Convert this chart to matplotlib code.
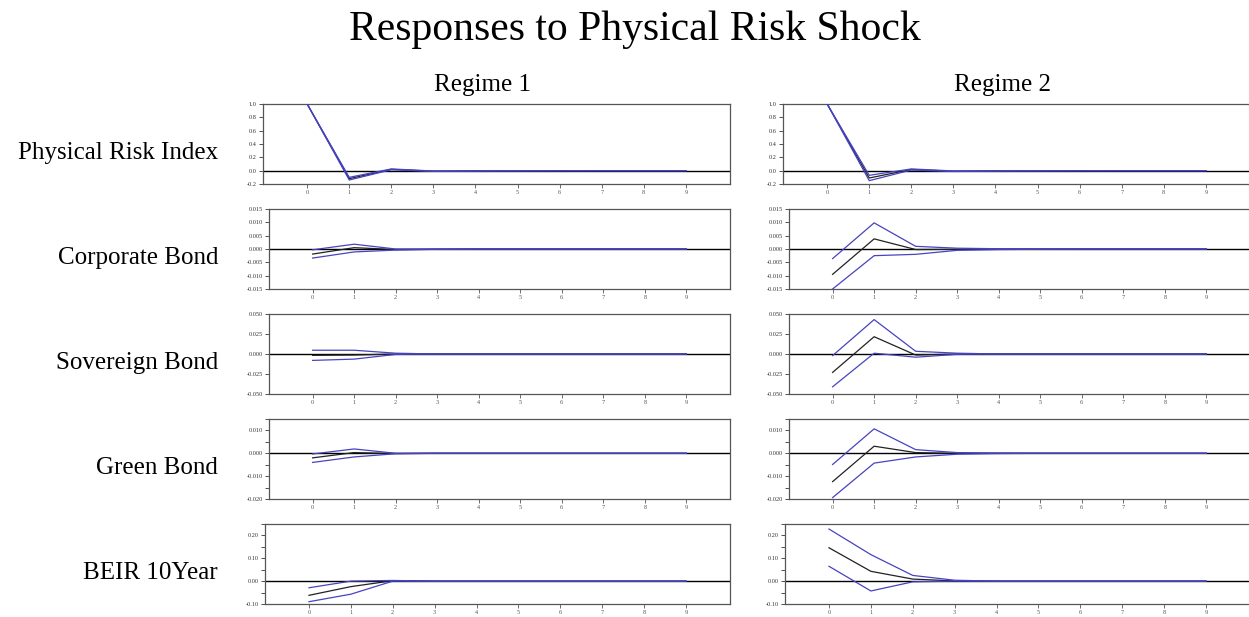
import numpy as np
import matplotlib.pyplot as plt

plt.rcParams['font.family'] = ['Liberation Serif', 'DejaVu Serif']

steps = np.arange(10)
regimes = ["Regime 1", "Regime 2"]
variables = ["Physical Risk Index", "Corporate Bond", "Sovereign Bond", "Green Bond", "BEIR 10Year"]

# impulse responses: point estimate (mid) with lower/upper bands
pri_r1_mid = [1.0, -0.120, 0.020, -0.008, -0.004, -0.002, -0.001, 0.0, 0.0, 0.0]
pri_r1_lo = [1.0, -0.140, 0.014, -0.011, -0.006, -0.003, -0.001, 0.0, 0.0, 0.0]
pri_r1_hi = [1.0, -0.100, 0.026, -0.005, -0.002, -0.001, 0.0, 0.0, 0.0, 0.0]
pri_r2_mid = [1.0, -0.110, 0.018, -0.008, -0.004, -0.002, -0.001, 0.0, 0.0, 0.0]
pri_r2_lo = [1.0, -0.150, 0.010, -0.012, -0.006, -0.003, -0.001, 0.0, 0.0, 0.0]
pri_r2_hi = [1.0, -0.070, 0.026, -0.004, -0.002, -0.001, 0.0, 0.0, 0.0, 0.0]

corp_r1_mid = [-0.0019, 0.0005, -0.0002, -0.0001, 0.0, 0.0, 0.0, 0.0, 0.0, 0.0]
corp_r1_lo = [-0.0034, -0.0011, -0.0004, -0.0001, 0.0, 0.0, 0.0, 0.0, 0.0, 0.0]
corp_r1_hi = [-0.0003, 0.0018, 0.0000, 0.0000, 0.0, 0.0, 0.0, 0.0, 0.0, 0.0]
corp_r2_mid = [-0.0095, 0.0038, -0.0002, -0.0001, 0.0, 0.0, 0.0, 0.0, 0.0, 0.0]
corp_r2_lo = [-0.0150, -0.0025, -0.0020, -0.0005, -0.0002, -0.0001, 0.0, 0.0, 0.0, 0.0]
corp_r2_hi = [-0.0036, 0.0098, 0.0010, 0.0003, 0.0001, 0.0, 0.0, 0.0, 0.0, 0.0]

sov_r1_mid = [-0.0017, -0.0013, 0.0000, 0.0, 0.0, 0.0, 0.0, 0.0, 0.0, 0.0]
sov_r1_lo = [-0.0080, -0.0064, -0.0005, 0.0, 0.0, 0.0, 0.0, 0.0, 0.0, 0.0]
sov_r1_hi = [0.0047, 0.0047, 0.0010, 0.0, 0.0, 0.0, 0.0, 0.0, 0.0, 0.0]
sov_r2_mid = [-0.0230, 0.0216, -0.0013, 0.0000, 0.0, 0.0, 0.0, 0.0, 0.0, 0.0]
sov_r2_lo = [-0.0410, 0.0010, -0.0040, -0.0004, 0.0, 0.0, 0.0, 0.0, 0.0, 0.0]
sov_r2_hi = [-0.0020, 0.0430, 0.0034, 0.0010, 0.0, 0.0, 0.0, 0.0, 0.0, 0.0]

green_r1_mid = [-0.0020, 0.0003, -0.0001, 0.0, 0.0, 0.0, 0.0, 0.0, 0.0, 0.0]
green_r1_lo = [-0.0040, -0.0016, -0.0002, 0.0, 0.0, 0.0, 0.0, 0.0, 0.0, 0.0]
green_r1_hi = [-0.0003, 0.0019, 0.0000, 0.0, 0.0, 0.0, 0.0, 0.0, 0.0, 0.0]
green_r2_mid = [-0.0124, 0.0031, 0.0003, 0.0000, 0.0, 0.0, 0.0, 0.0, 0.0, 0.0]
green_r2_lo = [-0.0194, -0.0043, -0.0016, -0.0004, -0.0001, 0.0, 0.0, 0.0, 0.0, 0.0]
green_r2_hi = [-0.0049, 0.0107, 0.0016, 0.0003, 0.0001, 0.0, 0.0, 0.0, 0.0, 0.0]

beir_r1_mid = [-0.062, -0.024, 0.002, 0.0, 0.0, 0.0, 0.0, 0.0, 0.0, 0.0]
beir_r1_lo = [-0.090, -0.057, 0.000, 0.0, 0.0, 0.0, 0.0, 0.0, 0.0, 0.0]
beir_r1_hi = [-0.029, 0.000, 0.003, 0.0, 0.0, 0.0, 0.0, 0.0, 0.0, 0.0]
beir_r2_mid = [0.146, 0.043, 0.009, 0.001, 0.0, 0.0, 0.0, 0.0, 0.0, 0.0]
beir_r2_lo = [0.065, -0.043, -0.003, 0.000, 0.0, 0.0, 0.0, 0.0, 0.0, 0.0]
beir_r2_hi = [0.228, 0.116, 0.025, 0.004, 0.0, 0.0, 0.0, 0.0, 0.0, 0.0]

responses = [
    [(pri_r1_mid, pri_r1_lo, pri_r1_hi), (pri_r2_mid, pri_r2_lo, pri_r2_hi)],
    [(corp_r1_mid, corp_r1_lo, corp_r1_hi), (corp_r2_mid, corp_r2_lo, corp_r2_hi)],
    [(sov_r1_mid, sov_r1_lo, sov_r1_hi), (sov_r2_mid, sov_r2_lo, sov_r2_hi)],
    [(green_r1_mid, green_r1_lo, green_r1_hi), (green_r2_mid, green_r2_lo, green_r2_hi)],
    [(beir_r1_mid, beir_r1_lo, beir_r1_hi), (beir_r2_mid, beir_r2_lo, beir_r2_hi)],
]

# y-axis settings per variable: limits, labelled ticks, label format, minor step
y_limits = [(-0.2, 1.0), (-0.015, 0.015), (-0.05, 0.05), (-0.02, 0.015), (-0.10, 0.25)]
y_ticks = [
    [-0.2, 0.0, 0.2, 0.4, 0.6, 0.8, 1.0],
    [-0.015, -0.010, -0.005, 0.0, 0.005, 0.010, 0.015],
    [-0.050, -0.025, 0.0, 0.025, 0.050],
    [-0.020, -0.010, 0.0, 0.010],
    [-0.10, 0.0, 0.10, 0.20],
]
y_fmt = ["%.1f", "%.3f", "%.3f", "%.3f", "%.2f"]
y_minor = [None, None, None, 0.005, 0.05]

W, H = 1249, 617
fig = plt.figure(figsize=(W / 100, H / 100), dpi=100)

band_color = "#4743c0"
frame_color = "#555555"

row_tops = [104, 209, 314, 419, 524]
row_lefts = [263, 269, 269, 269, 265]
col_shift = 520
ax_h = 80

for r, var in enumerate(variables):
    for c in range(2):
        left = row_lefts[r] + c * col_shift
        right = 730 + c * col_shift
        ax = fig.add_axes([left / W, 1 - (row_tops[r] + ax_h) / H,
                           (right - left) / W, ax_h / H])
        mid, lo, hi = responses[r][c]
        ax.axhline(0, color="black", lw=1.0, zorder=1)
        ax.plot(steps, mid, color="#222222", lw=0.9, zorder=2)
        ax.plot(steps, lo, color=band_color, lw=0.9, zorder=3)
        ax.plot(steps, hi, color=band_color, lw=0.9, zorder=3)

        ax.set_xlim(-1.05, 10.05)
        ax.set_ylim(*y_limits[r])
        ax.set_yticks(y_ticks[r])
        ax.set_yticklabels([y_fmt[r] % v for v in y_ticks[r]])
        if y_minor[r] is not None:
            lo_lim, hi_lim = y_limits[r]
            ax.set_yticks(np.arange(lo_lim, hi_lim + 1e-9, y_minor[r]), minor=True)
        ax.set_xticks(steps)
        ax.set_xticklabels([str(s) for s in steps])

        ax.tick_params(axis="y", direction="out", length=3, width=0.6,
                       labelsize=4.5, pad=1.5, colors="#333333")
        ax.tick_params(axis="y", which="minor", direction="out", length=3, width=0.6,
                       colors="#333333")
        ax.tick_params(axis="x", direction="out", length=3, width=0.6,
                       labelsize=4.5, pad=1.5, colors="#555555")
        for s in ax.spines.values():
            s.set_color(frame_color)
            s.set_linewidth(0.9)

    fig.text(218 / W, 1 - (row_tops[r] + 49) / H, var, ha="right", va="center", fontsize=18)

# column headings
for c, name in enumerate(regimes):
    fig.text((482 + c * 521) / W, 1 - 85 / H, name, ha="center", va="center", fontsize=18)

fig.text(635 / W, 1 - 30 / H, "Responses to Physical Risk Shock", ha="center", va="center",
         fontsize=30)

fig.savefig("out.png", dpi=100)
